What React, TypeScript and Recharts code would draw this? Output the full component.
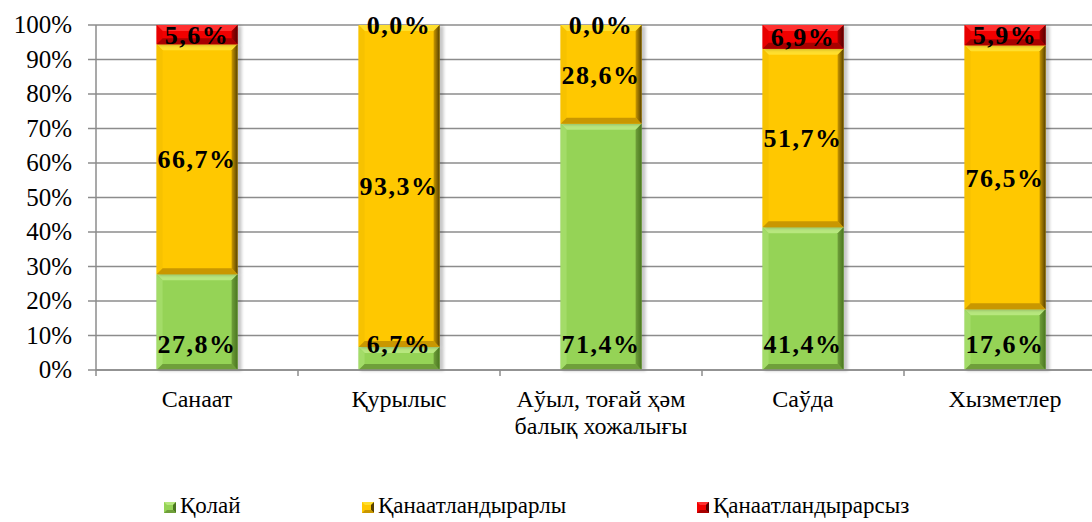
import React from 'react'
import { BarChart, Bar, XAxis, YAxis, CartesianGrid, Legend, LabelList } from 'recharts'

const categories = ['Санаат', 'Қурылыс', 'Аўыл, тоғай ҳәм\nбалық хожалығы', 'Саўда', 'Хызметлер']
const qolay = [27.8, 6.7, 71.4, 41.4, 17.6]
const qanaat = [66.7, 93.3, 28.6, 51.7, 76.5]
const qanaatsyz = [5.6, 0.0, 0.0, 6.9, 5.9]
const yTicks = [0, 10, 20, 30, 40, 50, 60, 70, 80, 90, 100]
const seriesNames = ['Қолай', 'Қанаатландырарлы', 'Қанаатландырарсыз']

const data = categories.map((name, i) => ({
  name,
  qolay: qolay[i],
  qanaat: qanaat[i],
  qanaatsyz: qanaatsyz[i],
}))

const FONT = "'Liberation Serif', 'Times New Roman', serif"
const AXIS = '#8c8c8c'

const palette = [
  { key: 'qolay', base: '#95d356', light: '#b7e77e', left: '#a3dc68', dark: '#4a7620', bottom: '#6f9f3a' },
  { key: 'qanaat', base: '#ffc800', light: '#ffdf2e', left: '#f7c200', dark: '#574100', bottom: '#c99700' },
  { key: 'qanaatsyz', base: '#f20000', light: '#ff3030', left: '#e80000', dark: '#560000', bottom: '#a80000' },
]

const fmt = (v: number) => v.toFixed(1).replace('.', ',') + '%'

const makeShape = (idx: number) => (props: any) => {
  const x = Number(props.x)
  const y = Number(props.y)
  const w = Number(props.width)
  const h = Number(props.height)
  if (!h || h <= 0.5 || !w) return <g />
  const c = palette[idx]
  const b = Math.min(6, h / 2, w / 2)
  return (
    <g>
      <rect x={x + 2} y={y + 1} width={w + 2} height={h} fill="rgba(0,0,0,0.22)" filter="url(#soft)" />
      <rect x={x} y={y} width={w} height={h} fill={c.base} />
      <polygon points={`${x},${y} ${x + w},${y} ${x + w - b},${y + b} ${x + b},${y + b}`} fill={c.light} />
      <polygon points={`${x},${y} ${x + b},${y + b} ${x + b},${y + h - b} ${x},${y + h}`} fill={c.left} />
      <polygon points={`${x},${y + h} ${x + w},${y + h} ${x + w - b},${y + h - b} ${x + b},${y + h - b}`} fill={c.bottom} />
      <polygon points={`${x + w},${y} ${x + w},${y + h} ${x + w - b},${y + h - b} ${x + w - b},${y + b}`} fill={`url(#edge-${c.key})`} />
    </g>
  )
}

const CategoryTick = (props: any) => {
  const { x, y, payload } = props
  const half = payload && payload.offset ? payload.offset : 101
  const lines = String(payload.value).split('\n')
  return (
    <g>
      <line x1={x - half} x2={x - half} y1={y} y2={y + 6} stroke={AXIS} strokeWidth={1.5} />
      <text x={x} y={y + 37} textAnchor="middle" style={{ fontFamily: FONT, fontSize: 24 }} fill="#000">
        {lines.map((l, i) => (
          <tspan key={i} x={x} dy={i === 0 ? 0 : 27}>{l}</tspan>
        ))}
      </text>
    </g>
  )
}

const YTick = (props: any) => {
  const { x, y, payload } = props
  return (
    <text x={x} y={y} dy={8} textAnchor="end" style={{ fontFamily: FONT, fontSize: 25 }} fill="#000">
      {`${Math.round(payload.value * 100)}%`}
    </text>
  )
}

const legendX = [164, 362, 697]

const renderLegend = () => (
  <div style={{ position: 'relative', height: 26, fontFamily: FONT, fontSize: 23, lineHeight: '24px', color: '#000' }}>
    {seriesNames.map((n, i) => (
      <div key={n} style={{ position: 'absolute', left: legendX[i], top: 0, display: 'flex', alignItems: 'center', whiteSpace: 'nowrap' }}>
        <svg width={12} height={11} style={{ marginRight: 4, marginTop: 2 }}>
          <rect x={0} y={0} width={12} height={11} fill={palette[i].base} />
          <polygon points="0,0 12,0 9,3 3,3" fill={palette[i].light} />
          <polygon points="12,0 12,11 9,8 9,3" fill={palette[i].dark} />
          <polygon points="0,11 12,11 9,8 3,8" fill={palette[i].bottom} />
        </svg>
        <span>{n}</span>
      </div>
    ))}
  </div>
)

const labelProps = { fill: '#000', fontWeight: 700, fontSize: 26, fontFamily: FONT, letterSpacing: 1.5 }

export default function App() {
  return (
    <div style={{ position: 'absolute', left: 0, top: 0, width: 1092, height: 522, overflow: 'hidden', background: '#fff' }}>
      <BarChart
        width={1110}
        height={522}
        data={data}
        stackOffset="expand"
        barCategoryGap="30%"
        margin={{ top: 25, right: 4, bottom: 2, left: 0 }}
      >
        <defs>
          <filter id="soft" x="-20%" y="-20%" width="140%" height="140%">
            <feGaussianBlur stdDeviation="1.5" />
          </filter>
          {palette.map((c) => (
            <linearGradient key={c.key} id={`edge-${c.key}`} x1="0" y1="0" x2="1" y2="0">
              <stop offset="0%" stopColor={c.bottom} />
              <stop offset="100%" stopColor={c.dark} />
            </linearGradient>
          ))}
        </defs>
        <CartesianGrid vertical={false} stroke={AXIS} strokeWidth={1.5} />
        <XAxis
          dataKey="name"
          interval={0}
          height={124}
          tickLine={false}
          tickSize={0}
          tickMargin={0}
          axisLine={{ stroke: AXIS, strokeWidth: 1.5 }}
          tick={<CategoryTick />}
        />
        <YAxis
          width={96}
          domain={[0, 1]}
          ticks={yTicks.map((t) => t / 100)}
          tickSize={8}
          tickMargin={16}
          tickLine={{ stroke: AXIS, strokeWidth: 1.5 }}
          axisLine={{ stroke: AXIS, strokeWidth: 1.5 }}
          tick={<YTick />}
        />
        <Legend verticalAlign="bottom" height={26} wrapperStyle={{ left: 0, width: 1092 }} content={renderLegend} />
        <Bar dataKey="qolay" name={seriesNames[0]} stackId="a" fill={palette[0].base} shape={makeShape(0)} isAnimationActive={false}>
          <LabelList dataKey="qolay" position="insideBottom" offset={17} formatter={fmt} {...labelProps} />
        </Bar>
        <Bar dataKey="qanaat" name={seriesNames[1]} stackId="a" fill={palette[1].base} shape={makeShape(1)} isAnimationActive={false}>
          <LabelList dataKey="qanaat" position="center" formatter={fmt} {...labelProps} />
        </Bar>
        <Bar dataKey="qanaatsyz" name={seriesNames[2]} stackId="a" fill={palette[2].base} shape={makeShape(2)} isAnimationActive={false}>
          <LabelList dataKey="qanaatsyz" position="center" formatter={fmt} {...labelProps} />
        </Bar>
      </BarChart>
    </div>
  )
}
